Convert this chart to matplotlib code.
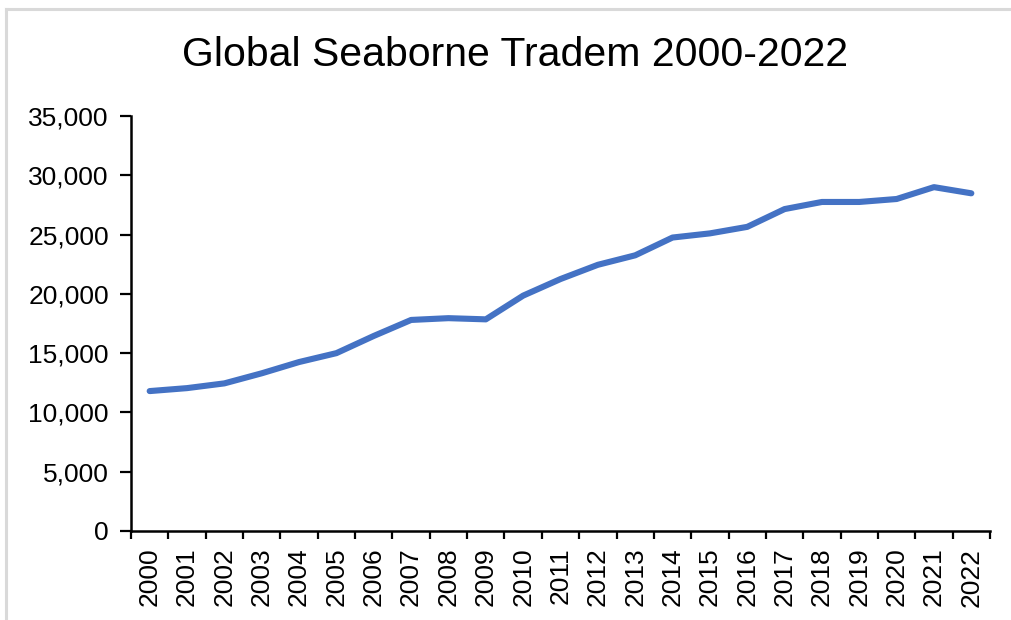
import matplotlib
matplotlib.use("Agg")
import matplotlib.pyplot as plt
from matplotlib.lines import Line2D
from matplotlib.ticker import FuncFormatter

years = [str(y) for y in range(2000, 2023)]
trade = [11800, 12050, 12450, 13300, 14250, 15000, 16450, 17800, 17950, 17850,
         19850, 21250, 22450, 23250, 24750, 25100, 25650, 27150, 27750, 27750,
         28000, 29000, 28480]

plt.rcParams['font.family'] = ['Liberation Sans', 'DejaVu Sans']

W, H = 1011, 620
fig = plt.figure(figsize=(W / 100, H / 100), dpi=100)
fig.patch.set_facecolor('white')

# light gray frame lines (top and left)
fig.add_artist(Line2D([6 / W, 6 / W], [0, 1 - 9 / H], transform=fig.transFigure,
                      color='#d9d9d9', lw=2.2))
fig.add_artist(Line2D([6 / W, 1], [1 - 9 / H, 1 - 9 / H], transform=fig.transFigure,
                      color='#d9d9d9', lw=2.2))

ax = fig.add_axes([131 / W, 1 - 531 / H, (990 - 131) / W, (531 - 116) / H])
x = list(range(len(years)))
ax.plot(x, trade, color='#4472C4', lw=4.4, solid_capstyle='round', solid_joinstyle='round')

ax.set_xlim(-0.5, len(years) - 0.5)
ax.set_ylim(0, 35000)
ax.set_yticks(range(0, 35001, 5000))
ax.yaxis.set_major_formatter(FuncFormatter(lambda v, p: f"{int(v):,}"))

# category boundaries as tick marks, labels at centres
ax.set_xticks([i - 0.5 for i in range(len(years) + 1)])
ax.set_xticklabels([])
ax.set_xticks(x, minor=True)
ax.set_xticklabels(years, minor=True, rotation=90, fontsize=19)
ax.tick_params(axis='x', which='major', length=6, width=1.6, color='black', direction='out')
ax.tick_params(axis='x', which='minor', length=0, pad=12)
ax.tick_params(axis='y', length=8, width=1.6, color='black', direction='out',
               labelsize=19, pad=8)

for s in ['top', 'right']:
    ax.spines[s].set_visible(False)
for s in ['left', 'bottom']:
    ax.spines[s].set_linewidth(1.8)
    ax.spines[s].set_color('black')

fig.text(515 / W, 1 - 55 / H, 'Global Seaborne Tradem 2000-2022', ha='center', va='center',
         fontsize=29.5, color='black')

fig.savefig('out.png', dpi=100)
